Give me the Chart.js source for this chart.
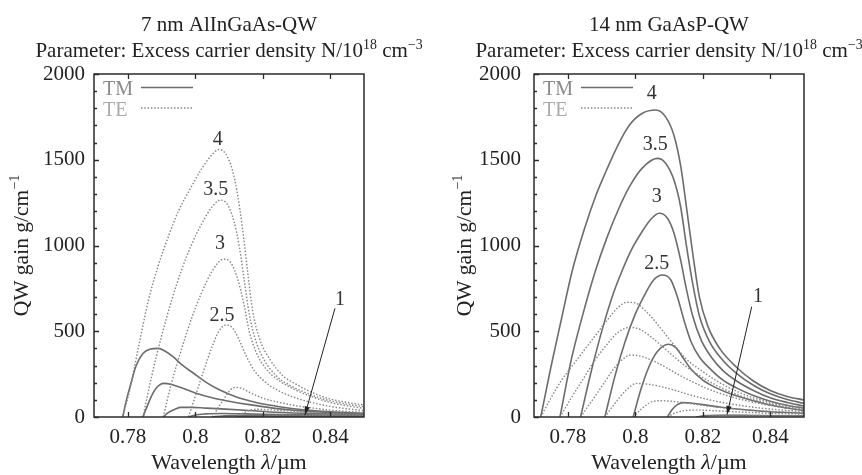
<!DOCTYPE html>
<html>
<head>
<meta charset="utf-8">
<script src="https://cdn.jsdelivr.net/npm/chart.js@4.4.0/dist/chart.umd.min.js"></script>
<style>
  html, body { margin: 0; padding: 0; background: #fff; }
  #wrap { position: relative; width: 862px; height: 475px; }
  .panel { position: absolute; top: 0; width: 431px; height: 475px; }
</style>
</head>
<body>
<div id="wrap">
  <div class="panel" style="left:0"><canvas id="gainAl" width="431" height="475"></canvas></div>
  <div class="panel" style="left:431px"><canvas id="gainP" width="431" height="475"></canvas></div>
</div>
<script>
// ---- axes ----
const X_TICKS = [0.78, 0.8, 0.82, 0.84];
const Y_TICKS = [0, 500, 1000, 1500, 2000];
const Y_MINOR_STEP = 100;

// ---- 7 nm AlInGaAs-QW : [wavelength um, gain 1/cm], N = 4 .. 1 ----
const AL_TE_4 = [[0.7785,0],[0.7805,150],[0.783,390],[0.786,670],[0.789,880],[0.792,1050],[0.795,1200],[0.7985,1330],[0.802,1450],[0.805,1530],[0.807,1560],[0.809,1535],[0.811,1440],[0.8125,1300],[0.814,1100],[0.8155,850],[0.817,620],[0.819,460],[0.822,340],[0.826,240],[0.83,190],[0.835,140],[0.84,105],[0.845,85],[0.85,70]];
const AL_TE_35 = [[0.7845,0],[0.787,230],[0.79,470],[0.793,680],[0.796,860],[0.799,1010],[0.802,1130],[0.805,1225],[0.8075,1265],[0.8095,1240],[0.8115,1140],[0.813,1000],[0.8145,800],[0.816,600],[0.818,440],[0.8205,330],[0.824,240],[0.828,185],[0.833,140],[0.838,105],[0.844,78],[0.85,60]];
const AL_TE_3 = [[0.7905,0],[0.793,200],[0.796,400],[0.799,580],[0.802,730],[0.805,850],[0.8083,920],[0.8105,900],[0.8125,810],[0.8145,650],[0.816,500],[0.818,380],[0.821,280],[0.825,210],[0.83,155],[0.835,115],[0.84,85],[0.845,65],[0.85,50]];
const AL_TE_25 = [[0.798,0],[0.8,120],[0.8025,270],[0.805,410],[0.807,500],[0.809,536],[0.811,520],[0.813,450],[0.815,360],[0.8175,270],[0.821,200],[0.825,150],[0.83,110],[0.835,82],[0.84,62],[0.845,48],[0.85,38]];
const AL_TE_2 = [[0.805,0],[0.807,60],[0.809,120],[0.8105,160],[0.812,173],[0.814,165],[0.8165,140],[0.82,110],[0.825,85],[0.83,65],[0.835,52],[0.84,40],[0.845,32],[0.85,27]];
const AL_TE_15 = [[0.812,0],[0.815,30],[0.818,45],[0.822,42],[0.828,35],[0.835,27],[0.842,21],[0.85,17]];
const AL_TE_1 = [[0.82,0],[0.824,10],[0.83,12],[0.84,10],[0.85,8]];

const AL_TM_4 = [[0.7785,0],[0.7795,90],[0.781,200],[0.7825,300],[0.7845,370],[0.7865,395],[0.789,400],[0.791,385],[0.7935,350],[0.796,305],[0.7995,255],[0.803,205],[0.807,160],[0.812,118],[0.818,85],[0.825,60],[0.832,42],[0.84,30],[0.85,22]];
const AL_TM_35 = [[0.7845,0],[0.7855,50],[0.787,120],[0.7885,170],[0.7907,196],[0.793,190],[0.796,170],[0.8,140],[0.805,112],[0.81,92],[0.816,72],[0.823,52],[0.83,38],[0.84,26],[0.85,18]];
const AL_TM_3 = [[0.7905,0],[0.792,25],[0.794,45],[0.7957,56],[0.799,56],[0.803,52],[0.809,46],[0.816,38],[0.824,28],[0.835,20],[0.85,14]];
const AL_TM_25 = [[0.798,0],[0.8,12],[0.803,18],[0.808,20],[0.815,18],[0.825,14],[0.838,11],[0.85,10]];
const AL_TM_2 = [[0.805,0],[0.808,6],[0.813,8],[0.825,8],[0.85,6]];
const AL_TM_15 = [[0.812,0],[0.816,3],[0.83,4],[0.85,4]];
const AL_TM_1 = [[0.82,0],[0.83,2],[0.85,2]];

// ---- 14 nm GaAsP-QW ----
const P_TM_4 = [[0.772,0],[0.775,290],[0.778,560],[0.7813,850],[0.785,1100],[0.7885,1300],[0.7915,1440],[0.795,1590],[0.7984,1705],[0.802,1770],[0.8061,1790],[0.809,1750],[0.8115,1640],[0.8135,1460],[0.8152,1220],[0.8172,930],[0.819,700],[0.8215,530],[0.825,400],[0.83,290],[0.835,210],[0.84,155],[0.845,120],[0.85,99]];
const P_TM_35 = [[0.7777,0],[0.781,330],[0.7845,600],[0.788,840],[0.7915,1040],[0.795,1210],[0.7985,1350],[0.802,1450],[0.8065,1508],[0.809,1480],[0.8115,1380],[0.8135,1220],[0.815,1020],[0.817,780],[0.819,590],[0.822,440],[0.826,330],[0.83,255],[0.835,185],[0.84,135],[0.845,102],[0.85,80]];
const P_TM_3 = [[0.7838,0],[0.787,270],[0.7905,530],[0.7935,720],[0.7962,857],[0.799,980],[0.802,1080],[0.8045,1150],[0.8071,1188],[0.8095,1160],[0.8115,1070],[0.8135,910],[0.815,760],[0.817,590],[0.8195,450],[0.8225,350],[0.826,270],[0.83,210],[0.835,155],[0.84,112],[0.845,85],[0.85,64]];
const P_TM_25 = [[0.791,0],[0.794,240],[0.797,440],[0.8,600],[0.803,720],[0.8055,800],[0.8081,828],[0.8105,800],[0.8125,700],[0.8145,560],[0.8165,440],[0.819,350],[0.8225,275],[0.826,215],[0.83,170],[0.835,125],[0.84,92],[0.845,68],[0.85,51]];
const P_TM_2 = [[0.7994,0],[0.8015,150],[0.804,290],[0.8065,380],[0.8098,424],[0.812,405],[0.814,350],[0.8165,280],[0.82,215],[0.824,170],[0.829,130],[0.835,95],[0.84,70],[0.845,52],[0.85,37]];
const P_TM_15 = [[0.8095,0],[0.811,45],[0.8125,72],[0.8142,84],[0.8165,82],[0.82,72],[0.825,58],[0.83,47],[0.835,38],[0.84,31],[0.845,26],[0.85,22]];
const P_TM_1 = [[0.818,0],[0.821,8],[0.826,10],[0.835,9],[0.85,7]];

const P_TE_4 = [[0.772,0],[0.775,110],[0.778,210],[0.781,290],[0.7845,380],[0.788,470],[0.7915,560],[0.795,640],[0.7975,669],[0.8,665],[0.803,620],[0.806,555],[0.809,480],[0.8115,420],[0.815,340],[0.82,265],[0.825,200],[0.83,150],[0.835,112],[0.84,85],[0.845,67],[0.85,55]];
const P_TE_35 = [[0.7777,0],[0.781,110],[0.7845,220],[0.788,330],[0.7915,420],[0.795,495],[0.7985,523],[0.8015,510],[0.8045,470],[0.8075,420],[0.811,360],[0.815,295],[0.82,230],[0.825,175],[0.83,132],[0.835,100],[0.84,77],[0.845,60],[0.85,46]];
const P_TE_3 = [[0.7838,0],[0.787,90],[0.7905,190],[0.794,290],[0.7965,340],[0.7986,361],[0.8015,355],[0.805,330],[0.809,290],[0.8125,250],[0.817,205],[0.822,160],[0.828,120],[0.834,90],[0.84,67],[0.845,52],[0.85,40]];
const P_TE_25 = [[0.791,0],[0.794,80],[0.797,150],[0.8004,196],[0.8035,192],[0.807,180],[0.811,160],[0.816,130],[0.822,100],[0.828,77],[0.835,57],[0.842,43],[0.85,32]];
const P_TE_2 = [[0.7994,0],[0.802,50],[0.8045,85],[0.807,95],[0.81,93],[0.815,82],[0.82,68],[0.826,54],[0.833,42],[0.841,32],[0.85,24]];
const P_TE_15 = [[0.8095,0],[0.812,25],[0.815,38],[0.819,40],[0.825,35],[0.832,28],[0.84,22],[0.85,17]];
const P_TE_1 = [[0.818,0],[0.822,8],[0.828,10],[0.838,9],[0.85,8]];

// ---- curve labels (N/1e18 cm^-3) ----
const AL_LABELS = [['4',0.8067,1615],['3.5',0.8061,1324],['3',0.8073,1009],['2.5',0.8079,589],['1',0.8429,682]];
const P_LABELS  = [['4',0.8049,1887],['3.5',0.8059,1586],['3',0.8064,1285],['2.5',0.8064,896],['1',0.8364,700]];
const AL_ARROW = [[0.8414,634],[0.8325,12]];
const P_ARROW  = [[0.8345,643],[0.8272,15]];

const SERIF = '"Liberation Serif", "Times New Roman", Times, serif';
const TM_COLOR = '#6c6c6c';
const TE_COLOR = '#858585';
const AXIS_COLOR = '#2b2b2b';

function richText(ctx, parts, x, y, size, align) {
  let w = 0;
  const segs = parts.map(p => {
    const s = p.sup ? size * 0.66 : size;
    const font = (p.it ? 'italic ' : '') + s + 'px ' + SERIF;
    ctx.font = font;
    const m = ctx.measureText(p.t).width;
    w += m;
    return { p, font, m };
  });
  let cx = align === 'center' ? x - w / 2 : x;
  ctx.textAlign = 'left';
  ctx.textBaseline = 'alphabetic';
  segs.forEach(({ p, font, m }) => {
    ctx.font = font;
    ctx.fillText(p.t, cx, p.sup ? y - size * 0.4 : y);
    cx += m;
  });
}

const decorPlugin = {
  id: 'decor',
  afterDatasetsDraw(chart, args, opts) {
    const { ctx, chartArea: a, scales: { x, y } } = chart;
    ctx.save();
    // frame + inward ticks
    ctx.strokeStyle = AXIS_COLOR;
    ctx.lineWidth = 1.5;
    ctx.strokeRect(a.left, a.top, a.right - a.left, a.bottom - a.top);
    ctx.lineWidth = 1.3;
    ctx.beginPath();
    X_TICKS.forEach(v => {
      const px = Math.round(x.getPixelForValue(v)) + 0.5;
      ctx.moveTo(px, a.bottom); ctx.lineTo(px, a.bottom - 5);
      ctx.moveTo(px, a.top); ctx.lineTo(px, a.top + 5);
    });
    for (let v = 0; v <= 2000; v += Y_MINOR_STEP) {
      const py = Math.round(y.getPixelForValue(v)) + 0.5;
      const len = Y_TICKS.includes(v) ? 5 : 3;
      ctx.moveTo(a.left, py); ctx.lineTo(a.left + len, py);
    }
    ctx.stroke();

    const cx = (a.left + a.right) / 2 + opts.titleShift;
    ctx.fillStyle = '#222';
    richText(ctx, opts.title1, cx, 31, 21, 'center');
    richText(ctx, [{ t: 'Parameter: Excess carrier density N/10' }, { t: '18', sup: true }, { t: ' cm' }, { t: '\u22123', sup: true }], cx, 57, 21, 'center');
    richText(ctx, [{ t: 'Wavelength ' }, { t: '\u03bb', it: true }, { t: '/\u00b5m' }], (a.left + a.right) / 2, 469, 22, 'center');
    ctx.save();
    ctx.translate(opts.yTitleX, (a.top + a.bottom) / 2);
    ctx.rotate(-Math.PI / 2);
    richText(ctx, [{ t: 'QW gain g/cm' }, { t: '\u22121', sup: true }], 0, 0, 21.5, 'center');
    ctx.restore();

    // legend
    ctx.font = '20px ' + SERIF;
    ctx.fillStyle = '#8a8a8a';
    ctx.fillText('TM', a.left + 9, 95);
    ctx.fillStyle = '#ababab';
    ctx.fillText('TE', a.left + 9, 116);
    ctx.lineWidth = 1.6;
    ctx.strokeStyle = TM_COLOR;
    ctx.beginPath(); ctx.moveTo(a.left + 47, 87.5); ctx.lineTo(a.left + 99, 87.5); ctx.stroke();
    ctx.lineWidth = 1.4;
    ctx.strokeStyle = TE_COLOR;
    ctx.setLineDash([1.5, 1.8]);
    ctx.beginPath(); ctx.moveTo(a.left + 47, 108); ctx.lineTo(a.left + 99, 108); ctx.stroke();
    ctx.setLineDash([]);

    // curve labels
    ctx.fillStyle = '#333';
    ctx.font = '20px ' + SERIF;
    ctx.textAlign = 'center';
    ctx.textBaseline = 'middle';
    opts.labels.forEach(([t, lx, ly]) => ctx.fillText(t, x.getPixelForValue(lx), y.getPixelForValue(ly)));

    // arrow to N = 1
    const [s, e] = opts.arrow;
    const x0 = x.getPixelForValue(s[0]), y0 = y.getPixelForValue(s[1]);
    const x1 = x.getPixelForValue(e[0]), y1 = y.getPixelForValue(e[1]);
    ctx.strokeStyle = '#222';
    ctx.lineWidth = 1;
    ctx.beginPath(); ctx.moveTo(x0, y0); ctx.lineTo(x1, y1); ctx.stroke();
    const ang = Math.atan2(y1 - y0, x1 - x0);
    ctx.fillStyle = '#222';
    ctx.beginPath();
    ctx.moveTo(x1, y1);
    ctx.lineTo(x1 - 9 * Math.cos(ang - 0.3), y1 - 9 * Math.sin(ang - 0.3));
    ctx.lineTo(x1 - 9 * Math.cos(ang + 0.3), y1 - 9 * Math.sin(ang + 0.3));
    ctx.closePath(); ctx.fill();
    ctx.restore();
  }
};

function toXY(arr) { return arr.map(([x, y]) => ({ x, y })); }

function makeChart(id, te, tm, opts) {
  const datasets = [];
  te.forEach(arr => datasets.push({
    data: toXY(arr), borderColor: TE_COLOR, borderWidth: 1.4, borderDash: [1.5, 1.8],
    pointRadius: 0, cubicInterpolationMode: 'monotone', fill: false
  }));
  tm.forEach(arr => datasets.push({
    data: toXY(arr), borderColor: TM_COLOR, borderWidth: 1.6,
    pointRadius: 0, cubicInterpolationMode: 'monotone', fill: false
  }));
  return new Chart(document.getElementById(id), {
    type: 'line',
    data: { datasets },
    options: {
      responsive: false, animation: false, devicePixelRatio: 1,
      layout: { padding: { left: 0, top: 74, right: opts.padRight, bottom: 0 } },
      plugins: { legend: { display: false }, tooltip: { enabled: false }, decor: opts },
      scales: {
        x: {
          type: 'linear', min: 0.77, max: 0.85,
          afterBuildTicks: s => { s.ticks = X_TICKS.map(v => ({ value: v })); },
          afterFit: s => { s.height = 58; },
          grid: { display: false, drawTicks: false }, border: { display: false },
          ticks: { color: '#222', font: { family: SERIF, size: 21 }, padding: 8, maxRotation: 0, callback: v => String(v) }
        },
        y: {
          min: 0, max: 2000,
          afterBuildTicks: s => { s.ticks = Y_TICKS.map(v => ({ value: v })); },
          afterFit: s => { s.width = opts.axisW; },
          grid: { display: false, drawTicks: false }, border: { display: false },
          ticks: { color: '#222', font: { family: SERIF, size: 21 }, padding: opts.tickPad, callback: v => String(v) }
        }
      }
    },
    plugins: [decorPlugin]
  });
}

makeChart('gainAl',
  [AL_TE_4, AL_TE_35, AL_TE_3, AL_TE_25, AL_TE_2, AL_TE_15, AL_TE_1],
  [AL_TM_4, AL_TM_35, AL_TM_3, AL_TM_25, AL_TM_2, AL_TM_15, AL_TM_1],
  { title1: [{ t: '7 nm AlInGaAs-QW' }], titleShift: 0, padRight: 67, axisW: 94, tickPad: 9, yTitleX: 28,
    labels: AL_LABELS, arrow: AL_ARROW });

makeChart('gainP',
  [P_TE_4, P_TE_35, P_TE_3, P_TE_25, P_TE_2, P_TE_15, P_TE_1],
  [P_TM_4, P_TM_35, P_TM_3, P_TM_25, P_TM_2, P_TM_15, P_TM_1],
  { title1: [{ t: '14 nm GaAsP-QW' }], titleShift: 0, padRight: 58, axisW: 103, tickPad: 13, yTitleX: 40,
    labels: P_LABELS, arrow: P_ARROW });
</script>
</body>
</html>
